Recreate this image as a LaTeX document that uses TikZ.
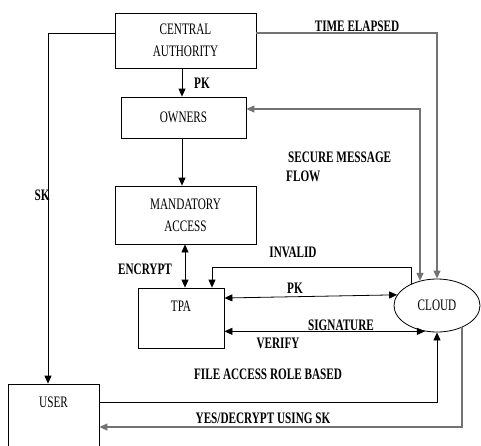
\documentclass[tikz,border=0pt]{standalone}
\usepackage{fontspec}
\setmainfont[FakeStretch=0.7]{Liberation Serif}
\usetikzlibrary{arrows.meta,shapes.geometric}
\begin{document}
\begin{tikzpicture}[x=1pt,y=-1pt, font=\fontsize{16}{22}\selectfont,
  box/.style={draw, line width=0.8pt, rectangle, inner sep=0pt, align=center},
  lbl/.style={font=\fontsize{16}{22}\selectfont\bfseries, inner sep=0pt},
  txt/.style={inner sep=0pt},
  ln/.style={line width=0.8pt},
  gline/.style={draw=black!55, line width=1.2pt},
  arr/.style={-{Triangle[length=8pt,width=7pt]}},
  darr/.style={{Triangle[length=8pt,width=7pt]}-{Triangle[length=8pt,width=7pt]}}]
\useasboundingbox (0,0) rectangle (481,445);
% boxes
\node[box, minimum width=141pt, minimum height=55pt] (ca) at (185.5,40.5) {CENTRAL\\AUTHORITY};
\node[box, minimum width=125pt, minimum height=41pt] (own) at (183.5,117.5) {OWNERS};
\node[box, minimum width=141pt, minimum height=58pt] (ma) at (185.5,215) {MANDATORY\\ACCESS};
\node[box, minimum width=86pt, minimum height=60pt] (tpa) at (181,318) {};
\node[txt] (tpat) at (181,306) {TPA};
\node[box, minimum width=91pt, minimum height=80pt] (user) at (53.5,424) {};
\node[txt] (usert) at (53.5,402) {USER};
\node[draw, ellipse, minimum width=86pt, minimum height=53pt, inner sep=0pt, line width=0.8pt] (cloud) at (437,305.5) {CLOUD};
% coordinates
\coordinate (xpk) at (182,0);
\coordinate (sk) at (48,33);
\coordinate (te) at (437,33);
\coordinate (sm) at (420,109);
\coordinate (enc) at (185,0);
\coordinate (inv) at (411,267);
\coordinate (invl) at (212,267);
\coordinate (pk) at (0,298);
\coordinate (fa) at (437,402);
\coordinate (yd) at (462,427);
% connectors
\draw[ln,arr] (ca.south -| xpk) -- (own.north -| xpk);
\draw[ln,arr] (own.south -| xpk) -- (ma.north -| xpk);
\draw[ln,arr] (ca.west |- sk) -- (sk) -- (user.north -| sk);
\draw[gline,arr] (ca.east |- te) -- (te) -- (cloud.north);
\draw[gline,darr] (own.east |- sm) -- (sm) -- (sm |- cloud.125);
\draw[ln,darr] (ma.south -| enc) -- (tpa.north -| enc);
\draw[ln,arr] (inv |- cloud.141) -- (inv) -- (invl) -- (tpa.north -| invl);
\draw[ln,darr] (tpa.east |- pk) -- (cloud.165);
\draw[ln,darr] (tpa.east |- cloud.245) -- (cloud.245);
\draw[ln,arr] (user.east |- fa) -- (fa) -- (cloud.south);
\draw[gline,arr] (yd |- cloud.319) -- (yd) -- (user.east |- yd);
% labels
\node[lbl] (l1) at (202,83) {PK};
\node[lbl] (l2) at (357,26) {TIME ELAPSED};
\node[lbl, anchor=west] (l3) at (288,157) {SECURE MESSAGE};
\node[lbl, anchor=west] (l4) at (286,176) {FLOW};
\node[lbl] (l5) at (42,195) {SK};
\node[lbl] (l6) at (145,269) {ENCRYPT};
\node[lbl] (l7) at (293,252) {INVALID};
\node[lbl] (l8) at (295,288) {PK};
\node[lbl] (l9) at (341,325) {SIGNATURE};
\node[lbl] (l10) at (278,343) {VERIFY};
\node[lbl] (l11) at (268,374) {FILE ACCESS ROLE BASED};
\node[lbl] (l12) at (263,418) {YES/DECRYPT USING SK};
\end{tikzpicture}
\end{document}
